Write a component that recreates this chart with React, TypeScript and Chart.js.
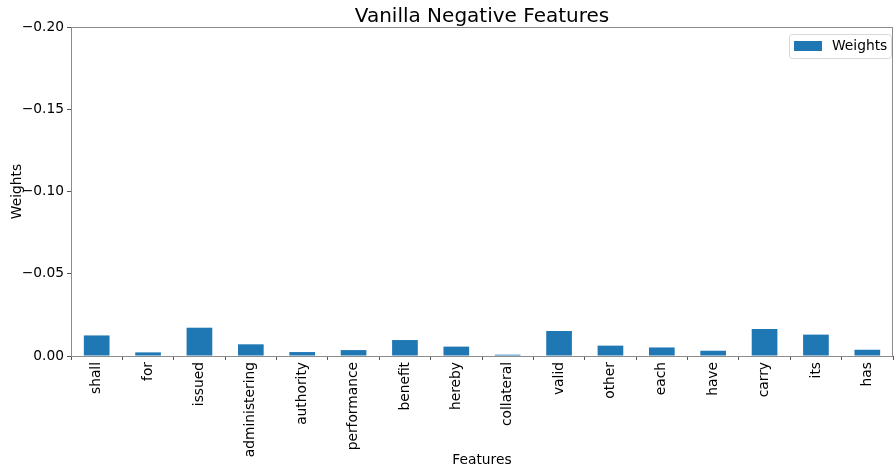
import React, { useEffect, useRef } from "react";
import { Chart, registerables } from "chart.js";

Chart.register(...registerables);

const categories = [
  "shall", "for", "issued", "administering", "authority", "performance", "benefit", "hereby",
  "collateral", "valid", "other", "each", "have", "carry", "its", "has",
];
const weights = [
  -0.0125, -0.0022, -0.0172, -0.0071, -0.0024, -0.0036, -0.0097, -0.0057,
  -0.0008, -0.0152, -0.0063, -0.0052, -0.0032, -0.0164, -0.013, -0.0038,
];
const seriesLabel = "Weights";
const titleText = "Vanilla Negative Features";
const xTitle = "Features";
const yTitle = "Weights";

const FONT = "'DejaVu Sans', sans-serif";
const BLUE = "#1f77b4";
const FS = 13.8;

const framePlugin = {
  id: "frameAndLegend",
  afterDraw(chart: any) {
    const { ctx, chartArea } = chart;
    ctx.save();
    ctx.strokeStyle = "#8c8c8c";
    ctx.lineWidth = 1;
    ctx.strokeRect(chartArea.left + 0.5, chartArea.top + 0.5, chartArea.right - chartArea.left - 1, chartArea.bottom - chartArea.top);
    // legend
    const w = 102, h = 24;
    const x = chartArea.right - w - 2, y = chartArea.top + 7;
    ctx.fillStyle = "rgba(255,255,255,0.8)";
    ctx.strokeStyle = "#d8d8d8";
    ctx.beginPath();
    (ctx as any).roundRect(x + 0.5, y + 0.5, w, h, 3);
    ctx.fill();
    ctx.stroke();
    ctx.fillStyle = BLUE;
    ctx.fillRect(x + 5, y + 7, 28, 10);
    ctx.fillStyle = "#000";
    ctx.font = `${FS}px ${FONT}`;
    ctx.textBaseline = "middle";
    ctx.textAlign = "left";
    ctx.fillText(seriesLabel, x + 43, y + 12.5);
    ctx.restore();
  },
};

export default function App() {
  const ref = useRef<HTMLCanvasElement>(null);
  useEffect(() => {
    if (!ref.current) return;
    const chart = new Chart(ref.current, {
      type: "bar",
      data: {
        labels: categories,
        datasets: [
          {
            label: seriesLabel,
            data: weights,
            backgroundColor: BLUE,
            barPercentage: 0.5,
            categoryPercentage: 1,
          },
        ],
      },
      options: {
        responsive: false,
        animation: false,
        layout: { padding: { left: 9, right: 3, top: 0, bottom: 0 } },
        plugins: {
          legend: { display: false },
          tooltip: { enabled: false },
          title: {
            display: true,
            fullSize: false,
            text: titleText,
            color: "#000",
            font: { family: FONT, size: 20, weight: "normal", lineHeight: 1.0 },
            padding: { top: 7, bottom: 0 },
          } as any,
        },
        scales: {
          x: {
            grid: { display: true, drawOnChartArea: false, drawTicks: true, tickLength: 4, color: "#555" },
            border: { display: false },
            ticks: {
              color: "#000",
              font: { family: FONT, size: FS },
              minRotation: 90,
              maxRotation: 90,
              padding: 2,
              autoSkip: false,
            },
            title: {
              display: true,
              text: xTitle,
              color: "#000",
              font: { family: FONT, size: FS },
              padding: { top: 0, bottom: 4 },
            },
            afterFit: (scale: any) => {
              scale.height = 117;
            },
          },
          y: {
            reverse: true,
            min: -0.2,
            max: 0,
            grid: { display: true, drawOnChartArea: false, drawTicks: true, tickLength: 4, color: "#555" },
            border: { display: false },
            ticks: {
              stepSize: 0.05,
              color: "#000",
              font: { family: FONT, size: FS },
              padding: 3,
              callback: (v: any) => {
                const n = Number(v);
                const s = Math.abs(n).toFixed(2);
                return n < -1e-9 ? "\u2212" + s : s;
              },
            },
            title: {
              display: true,
              text: yTitle,
              color: "#000",
              font: { family: FONT, size: FS },
              padding: { top: 0, bottom: 4 },
            },
            afterFit: (scale: any) => {
              scale.width = 62;
            },
          },
        },
      },
      plugins: [framePlugin],
    });
    return () => chart.destroy();
  }, []);
  return (
    <div style={{ position: "fixed", left: 0, top: 0, width: 896, height: 473, background: "#fff" }}>
      <canvas ref={ref} width={896} height={473} />
    </div>
  );
}
